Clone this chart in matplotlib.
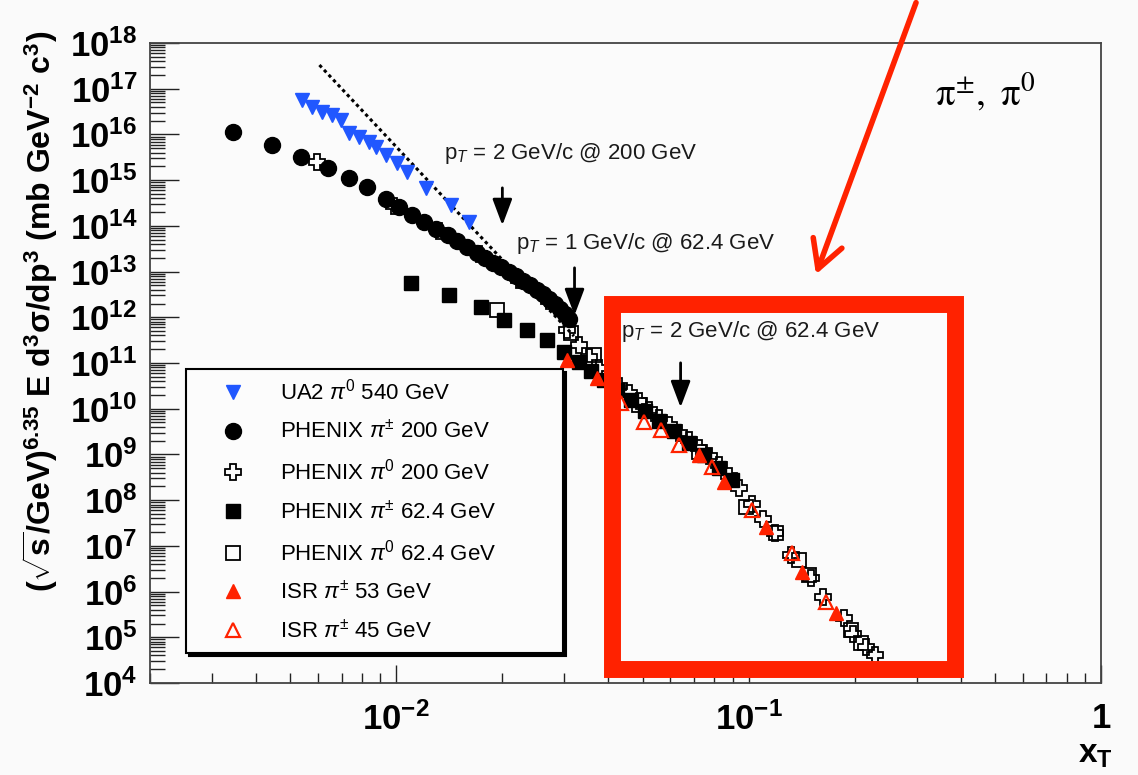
import numpy as np
import matplotlib
matplotlib.use('Agg')
import matplotlib.pyplot as plt
from matplotlib.ticker import LogLocator, FixedLocator, FuncFormatter, NullFormatter
from matplotlib.patches import Rectangle

plt.rcParams['font.family'] = ['Liberation Sans', 'DejaVu Sans']
plt.rcParams['mathtext.fontset'] = 'custom'
plt.rcParams['mathtext.rm'] = 'Liberation Sans'
plt.rcParams['mathtext.it'] = 'Liberation Sans:italic'
plt.rcParams['mathtext.bf'] = 'Liberation Sans:bold'

# UA2 pi0 540 GeV
ua2_x = [0.005416, 0.005781, 0.006171, 0.006587, 0.006985, 0.00736, 0.007856, 0.008385,
         0.008777, 0.009369, 0.01007, 0.01074, 0.01216, 0.01432, 0.0161]
ua2_y = [5.66e16, 3.98e16, 3.09e16, 2.66e16, 2.07e16, 1.07e16, 8.77e15, 6.82e15,
         5.30e15, 3.54e15, 2.37e15, 1.50e15, 6.72e14, 2.85e14, 1.21e14]

# PHENIX pi+- 200 GeV
c200_x = [0.00343, 0.00445, 0.00538, 0.00638, 0.00736, 0.00828, 0.00937, 0.0102, 0.0111,
          0.0120, 0.0130, 0.0140, 0.0149, 0.0159, 0.0169, 0.0179, 0.0188, 0.0198, 0.0209,
          0.0219, 0.0229, 0.0240, 0.0251, 0.0261, 0.0271, 0.0282, 0.0292, 0.0301, 0.0309]
c200_y = [1.13e16, 5.86e15, 3.2e15, 1.84e15, 1.11e15, 7.06e14, 3.86e14, 2.58e14, 1.72e14,
          1.21e14, 8.51e13, 6.29e13, 4.65e13, 3.44e13, 2.54e13, 1.97e13, 1.53e13, 1.25e13,
          9.75e12, 7.97e12, 6.2e12, 5.07e12, 3.94e12, 3.22e12, 2.5e12, 1.94e12, 1.51e12,
          1.17e12, 9.13e11]

# PHENIX pi0 200 GeV
x200_x = [0.00597, 0.00987, 0.0132, 0.0172, 0.0223, 0.0271, 0.0305, 0.033, 0.0352, 0.0376,
          0.0401, 0.0428, 0.0457, 0.0488, 0.0521, 0.0556, 0.0593, 0.0633, 0.0676, 0.0722,
          0.077, 0.0822, 0.0878, 0.0937, 0.102, 0.11, 0.119, 0.132, 0.15, 0.163, 0.186,
          0.198, 0.215, 0.229]
x200_y = [2.49e15, 2.71e14, 7.7e13, 2.42e13, 6.52e12, 2.26e12, 5.25e11, 2.46e11, 1.35e11,
          7.73e10, 4.91e10, 3.12e10, 2.19e10, 1.47e10, 9.32e9, 6.23e9, 4.38e9, 2.92e9,
          2.06e9, 1.37e9, 9.18e8, 5.83e8, 3.35e8, 1.83e8, 8.17e7, 3.84e7, 1.9e7, 6.26e6,
          1.96e6, 7.54e5, 2.62e5, 1.17e5, 6.07e4, 4.06e4]

# PHENIX pi+- 62.4 GeV
sq62_x = [0.011, 0.0141, 0.0174, 0.0202, 0.0235, 0.0268, 0.0299, 0.033, 0.0357, 0.0388,
          0.0423, 0.0463, 0.0507, 0.0556, 0.0613, 0.0676, 0.0746, 0.0822, 0.0895]
sq62_y = [5.60e12, 3.06e12, 1.67e12, 8.68e11, 5.25e11, 3.17e11, 1.73e11, 1.05e11, 6.65e10,
          4.22e10, 2.55e10, 1.54e10, 8.86e9, 5.35e9, 3.23e9, 1.77e9, 9.65e8, 5.01e8, 2.74e8]

# PHENIX pi0 62.4 GeV
osq62_x = [0.01932, 0.03131, 0.03638, 0.0488, 0.07217, 0.09806, 0.1193, 0.1386, 0.1479, 0.1958, 0.209]
osq62_y = [1.44e12, 4.51e11, 1.49e11, 1.20e10, 1.12e9, 7.03e7, 1.90e7, 4.87e6, 2.28e6, 1.43e5, 7.43e4]

# ISR pi+- 53 GeV
isr53_x = [0.03051, 0.0371, 0.07217, 0.08495, 0.1117, 0.1413, 0.1775]
isr53_y = [1.16e11, 4.67e10, 9.65e8, 2.48e8, 2.57e7, 2.66e6, 3.37e5]

# ISR pi+- 45 GeV
isr45_x = [0.04339, 0.05041, 0.05633, 0.06334, 0.07856, 0.102, 0.1324, 0.1663]
isr45_y = [1.33e10, 5.09e9, 3.40e9, 1.60e9, 5.27e8, 6.04e7, 6.92e6, 5.86e5]

# dotted reference line
dot_x = [0.006052, 0.03193]
dot_y = [3.30e17, 3.88e11]

# arrows: pT (GeV/c) and sqrt(s) (GeV), xT = 2 pT / sqrt(s)
ann_pt = [2, 1, 2]
ann_rs = [200, 62.4, 62.4]
ann_y_tail = [7.8e14, 1.39e13, 1.16e11]
ann_y_tip = [8.95e13, 9.6e11, 9.3e9]
ann_text_x = [0.01368, 0.02188, 0.04339]
ann_text_y = [3.9e15, 4.2e13, 5.0e11]

fig = plt.figure(figsize=(11.38, 7.75), dpi=100, facecolor='#fafafa')
ax = fig.add_axes([150/1138, 1-683/775, 951/1138, 640/775])
ax.set_facecolor('#fbfbfb')
ax.set_xscale('log')
ax.set_yscale('log')
ax.set_xlim(2e-3, 1)
ax.set_ylim(1e4, 1e18)

blue = '#2157ff'
red = '#ff2200'
ax.plot(dot_x, dot_y, color='k', ls=(0, (1.1, 1.1)), lw=2.2, zorder=2)
ax.plot(ua2_x, ua2_y, 'v', color=blue, ms=10, label=r'UA2 $\pi^{0}$ 540 GeV', zorder=3)
ax.plot(c200_x, c200_y, 'o', color='k', ms=11.5, label=r'PHENIX $\pi^{\pm}$ 200 GeV', zorder=3)
ax.plot(x200_x, x200_y, 'P', mfc='none', mec='k', mew=1.3, ms=11,
        label=r'PHENIX $\pi^{0}$ 200 GeV', zorder=3)
ax.plot(sq62_x, sq62_y, 's', color='k', ms=10, label=r'PHENIX $\pi^{\pm}$ 62.4 GeV', zorder=3)
ax.plot(osq62_x, osq62_y, 's', mfc='none', mec='k', mew=1.3, ms=10,
        label=r'PHENIX $\pi^{0}$ 62.4 GeV', zorder=3)
ax.plot(isr53_x, isr53_y, '^', color=red, ms=10, label=r'ISR $\pi^{\pm}$ 53 GeV', zorder=4)
ax.plot(isr45_x, isr45_y, '^', mfc='none', mec=red, mew=1.6, ms=10,
        label=r'ISR $\pi^{\pm}$ 45 GeV', zorder=4)

# arrows and labels
for pt, rs, yt, yh, tx, ty in zip(ann_pt, ann_rs, ann_y_tail, ann_y_tip, ann_text_x, ann_text_y):
    xt = 2 * pt / rs
    ax.annotate('', xy=(xt, yh), xytext=(xt, yt),
                arrowprops=dict(arrowstyle='-|>,head_length=0.8,head_width=0.3',
                                color='k', lw=2, mutation_scale=20), zorder=5)
    ax.text(tx, ty, r'p$_{T}$ = %g GeV/c @ %g GeV' % (pt, rs), fontsize=16,
            ha='left', va='center', color='#1a1a1a', zorder=5)

ax.text(0.878, 0.923, r'$\mathrm{\pi^{\pm},\ \pi^{0}}$', transform=ax.transAxes, fontsize=28,
        ha='center', va='center', math_fontfamily='stix')

# ticks like ROOT
ax.yaxis.set_major_locator(LogLocator(base=10, numticks=30))
ax.yaxis.set_minor_locator(LogLocator(base=10, subs=np.arange(2, 10), numticks=300))
ax.yaxis.set_minor_formatter(NullFormatter())
ax.yaxis.set_major_formatter(FuncFormatter(lambda v, p: r'$\mathbf{10^{%d}}$' % round(np.log10(v))))
ax.xaxis.set_major_locator(FixedLocator([1e-2, 1e-1, 1]))
ax.xaxis.set_minor_locator(LogLocator(base=10, subs=np.arange(2, 10), numticks=30))
ax.xaxis.set_minor_formatter(NullFormatter())
ax.xaxis.set_major_formatter(FuncFormatter(
    lambda v, p: r'$\mathbf{1}$' if v == 1 else r'$\mathbf{10^{%d}}$' % round(np.log10(v))))
ax.tick_params(which='both', direction='in', top=False, right=False, color='#222222', width=1)
ax.tick_params(axis='y', which='major', length=21, pad=9, labelsize=25)
ax.tick_params(axis='y', which='minor', length=11)
ax.tick_params(axis='x', which='major', length=13, pad=14, labelsize=25)
ax.tick_params(axis='x', which='minor', length=7)
for s in ax.spines.values():
    s.set_color('#444444')
    s.set_linewidth(1.3)

ax.set_xlabel(r'$\mathbf{x_{T}}$', fontsize=24, ha='right', va='top')
ax.xaxis.set_label_coords(1.013, -0.088)
ax.set_ylabel(r'$\mathbf{(\sqrt{s}/GeV)^{6.35}\ E\ d^{3}\sigma/dp^{3}\ (mb\ GeV^{-2}\ c^{3})}$',
              fontsize=23)
ax.yaxis.label.set_va('center')
ax.yaxis.set_label_coords(-0.116, 0.58)

leg = ax.legend(loc='upper left', bbox_to_anchor=(0.038, 0.053, 0.396, 0.438), mode='expand',
                borderaxespad=0, fontsize=16, labelspacing=0.7, borderpad=0.45,
                handlelength=3.3, handletextpad=0.48, fancybox=False, framealpha=1,
                edgecolor='k', facecolor='#fcfcfc', shadow={'color': 'black', 'alpha': 1})
leg.get_frame().set_linewidth(1.5)
leg.set_zorder(6)

# red highlight overlay
fig.add_artist(Rectangle((611.5/1138, 1-668.5/775), (955-611.5)/1138, (668.5-304.5)/775,
                         transform=fig.transFigure, fill=False, ec=red, lw=12.2,
                         joinstyle='miter', zorder=10))
ax.annotate('', xy=(815/1138, 1-277/775), xytext=(917/1138, 1.0), xycoords='figure fraction',
            textcoords='figure fraction', annotation_clip=False,
            arrowprops=dict(arrowstyle='->,head_length=1.0,head_width=0.55', color=red,
                            lw=4, mutation_scale=20), zorder=10)

fig.savefig('out.png', dpi=100, facecolor=fig.get_facecolor())
